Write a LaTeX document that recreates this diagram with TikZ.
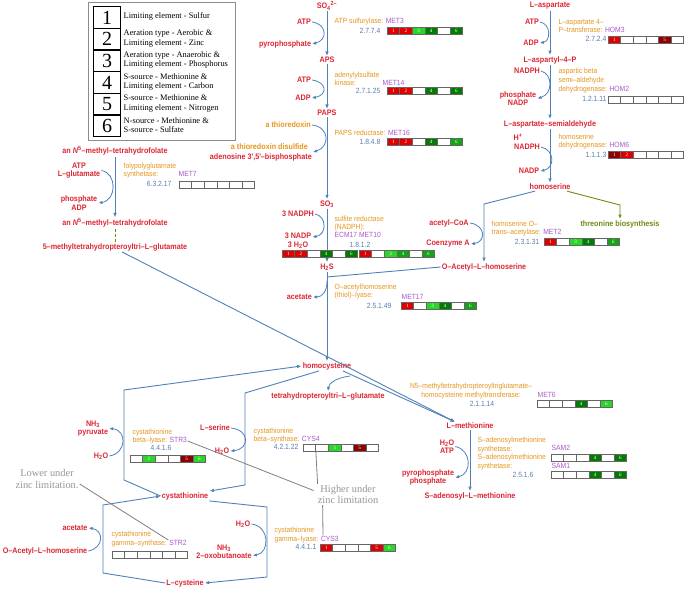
\documentclass[tikz,border=0pt]{standalone}
\usepackage{fontspec}
\setmainfont{Liberation Serif}
\newfontfamily\lab{Liberation Sans}[FakeStretch=0.9]
\usetikzlibrary{arrows.meta}
\definecolor{metc}{RGB}{220,38,52}
\definecolor{enzc}{RGB}{230,150,30}
\definecolor{genec}{RGB}{170,90,200}
\definecolor{ecc}{RGB}{90,125,175}
\definecolor{arrc}{RGB}{80,130,185}
\definecolor{thrc}{RGB}{110,140,20}
\definecolor{notec}{RGB}{150,150,150}
\definecolor{cR}{RGB}{225,0,0}
\definecolor{cD}{RGB}{145,0,0}
\definecolor{cG}{RGB}{40,215,40}
\definecolor{cM}{RGB}{20,165,20}
\definecolor{cK}{RGB}{0,125,0}
\newcommand{\cellrow}[4]{\foreach \cc/\nn [count=\ii] in {#4}{\node[cellbox, fill=\cc] (#1-\ii) at ({#2+12.6*\ii-6.3},{#3+3.75}) {\nn};}}
\begin{document}
\begin{tikzpicture}[x=1pt,y=-1pt,
 met/.style={font=\lab\bfseries\fontsize{8}{8.4}\selectfont, text=metc, inner sep=1pt, align=center},
 enz/.style={font=\lab\fontsize{7.5}{8.6}\selectfont, text=enzc, inner sep=0.5pt, anchor=west, align=left},
 genel/.style={font=\lab\fontsize{7.5}{8.6}\selectfont, text=genec, inner sep=0.5pt, anchor=west},
 ecl/.style={font=\lab\fontsize{7.5}{8.6}\selectfont, text=ecc, inner sep=0.5pt},
 cellbox/.style={draw=black!60, line width=0.5pt, minimum width=12.6pt, minimum height=7.5pt, inner sep=0pt, text=white, font=\fontsize{5}{5}\selectfont},
 mainarr/.style={draw=arrc, line width=0.9pt, -{Latex[length=4.5pt,width=3.6pt]}},
 mainln/.style={draw=arrc, line width=0.9pt},
 sidearr/.style={draw=arrc, line width=0.8pt, -{Latex[length=4pt,width=3.4pt]}},
 thrarr/.style={draw=thrc, line width=0.9pt, -{Latex[length=4.5pt,width=3.6pt]}},
 notel/.style={draw=black!50, line width=0.8pt},
 notet/.style={font=\fontsize{10.4}{11.5}\selectfont, text=notec, align=center, inner sep=1pt},
 legt/.style={font=\fontsize{8.4}{9.4}\selectfont, align=left, anchor=west, inner sep=0.5pt},
 legn/.style={draw, line width=1.3pt, minimum width=27pt, minimum height=21.67pt, inner sep=0pt, font=\fontsize{20}{20}\selectfont, anchor=north west}
]
\useasboundingbox (0,0) rectangle (685,592);
\fill[white] (0,0) rectangle (685,592);

% ---------------- legend
\node[draw=black!45, line width=0.7pt, anchor=north west, minimum width=147pt, minimum height=138pt, inner sep=0pt] (legbox) at (88,2) {};
\foreach \i in {1,...,6}{\node[legn] (L\i) at (93,{6+21.67*(\i-1)}) {\i};}
\node[legt] (lt1) at (123,16.8) {Limiting element - Sulfur};
\node[legt] (lt2) at (123,38.5) {Aeration type - Aerobic \&\\Limiting element - Zinc};
\node[legt] (lt3) at (123,60.2) {Aeration type - Anaerobic \&\\Limiting element - Phosphorus};
\node[legt] (lt4) at (123,81.8) {S-source - Methionine \&\\Limiting element - Carbon};
\node[legt] (lt5) at (123,103.5) {S-source - Methionine \&\\Limiting element - Nitrogen};
\node[legt] (lt6) at (123,125.2) {N-source - Methionine \&\\S-source - Sulfate};

% ---------------- sulfate column
\node[met] (so4) at (327,6) {SO\textsubscript{4}\textsuperscript{2–}};
\node[met] (atp1) at (304,22) {ATP};
\node[met] (ppi1) at (285,44) {pyrophosphate};
\node[met] (aps) at (327,60) {APS};
\node[met] (atp2) at (304,80) {ATP};
\node[met] (adp1) at (303,98) {ADP};
\node[met] (paps) at (327,113) {PAPS};
\node[met, text=enzc, anchor=east] (trx) at (312,125) {a thioredoxin};
\node[met, text=enzc, anchor=east] (trxss) at (309,147) {a thioredoxin disulfide};
\node[met, anchor=east] (pap) at (313,157) {adenosine 3',5'–bisphosphate};
\node[met] (so3) at (327,204) {SO\textsubscript{3}};
\node[met] (nadph3) at (298,214) {3 NADPH};
\node[met] (nadp3) at (298,241) {3 NADP\\3 H\textsubscript{2}O};
\node[met] (h2s) at (327,267) {H\textsubscript{2}S};
\node[met, anchor=east] (acet1) at (313,297) {acetate};
\node[met] (homocys) at (327,366) {homocysteine};
\node[met] (tetra) at (328,396) {tetrahydropteroyltri–L–glutamate};

% ---------------- aspartate column
\node[met] (lasp) at (550,6) {L–aspartate};
\node[met] (atp3) at (532,22) {ATP};
\node[met] (adp3) at (531,43) {ADP};
\node[met] (lasp4p) at (550,60) {L–aspartyl–4–P};
\node[met] (nadph1) at (527,71) {NADPH};
\node[met] (phos1) at (518,98.5) {phosphate\\NADP};
\node[met] (lasa) at (550,124) {L–aspartate–semialdehyde};
\node[met] (hplus) at (518,137) {H\textsuperscript{+}};
\node[met] (nadph2) at (527,147) {NADPH};
\node[met] (nadp2) at (529,171) {NADP};
\node[met] (homoser) at (550,187) {homoserine};
\node[met, text=thrc] (thr) at (620,224) {threonine biosynthesis};
\node[met] (acoa) at (449,223) {acetyl–CoA};
\node[met] (coa) at (448,244) {Coenzyme A};
\node[met] (oahs) at (484,267) {O–Acetyl–L–homoserine};

% ---------------- folate column
\node[met] (n5a) at (115,151) {an \textit{N}\textsuperscript{5}–methyl–tetrahydrofolate};
\node[met] (atp4) at (79,170.5) {ATP\\L–glutamate};
\node[met] (phos2) at (79,203) {phosphate\\ADP};
\node[met] (n5b) at (115,223) {an \textit{N}\textsuperscript{5}–methyl–tetrahydrofolate};
\node[met] (mthf) at (115,247) {5–methyltetrahydropteroyltri–L–glutamate};

% ---------------- methionine
\node[met] (lmet) at (470,426) {L–methionine};
\node[met] (atp5) at (447,446.5) {H\textsubscript{2}O\\ATP};
\node[met] (ppi2) at (428,477.5) {pyrophosphate\\phosphate};
\node[met] (sam) at (470,496) {S–adenosyl–L–methionine};

% ---------------- transsulfuration
\node[met] (pyr) at (93,428.5) {NH\textsubscript{3}\\pyruvate};
\node[met] (h2o5) at (101,456) {H\textsubscript{2}O};
\node[met] (lser) at (215,428) {L–serine};
\node[met] (h2o6) at (222,451) {H\textsubscript{2}O};
\node[met] (cysta) at (185,496) {cystathionine};
\node[met] (acet2) at (75,528) {acetate};
\node[met] (oahs2) at (45,551) {O–Acetyl–L–homoserine};
\node[met] (h2o7) at (243,524) {H\textsubscript{2}O};
\node[met] (oxob) at (224,551.5) {NH\textsubscript{3}\\2–oxobutanoate};
\node[met] (lcys) at (185,583) {L–cysteine};

% ---------------- junction coordinates
\coordinate (j1) at (327,277);
\coordinate (j3) at (327,281);
\coordinate (j2) at (350,376);

% ---------------- main arrows
\draw[mainarr] (so4) -- (aps);
\draw[mainarr] (aps) -- (paps);
\draw[mainarr] (paps) -- (so3);
\draw[mainarr] (so3) -- (h2s);
\draw[mainarr] (h2s) -- (homocys);
\draw[mainln] (oahs.west) -- (j1);
\draw[mainarr] (lasp) -- (lasp4p);
\draw[mainarr] (lasp4p) -- (lasa);
\draw[mainarr] (lasa) -- (homoser);
\draw[mainarr] ([xshift=-15pt]homoser.south) -- (484,204) -- (oahs.north);
\draw[thrarr] ([xshift=17pt]homoser.south) -- (620,205) -- (thr.north);
\draw[mainarr] (n5a) -- (n5b);
\draw[draw=thrc, line width=0.9pt, dash pattern=on 3pt off 2pt] (n5b) -- (mthf);
\draw[mainarr] ([xshift=7pt]mthf.south) -- ([xshift=-15pt]lmet.north);
\draw[mainarr] ([xshift=16pt]homocys.south) -- ([xshift=-15pt]lmet.north);
\draw[mainarr] (lmet) -- (sam);
\draw[mainarr] (cysta.west) -- (124,480) -- (124,390) -- (homocys.west);
\draw[mainarr] ([xshift=-8pt]homocys.south) -- (245,393) -- (245,485) -- (cysta.north east);
\draw[mainarr] (lcys.west) -- (103,573) -- (103,505) -- (cysta.west);
\draw[mainarr] (cysta.south east) -- (267,507) -- (267,577) -- (lcys.east);

% ---------------- side arrows
\draw[sidearr] (atp1.east) .. controls (327,24) and (328,40) .. (ppi1.east);
\draw[sidearr] (atp2.east) .. controls (327,82) and (328,95) .. (adp1.east);
\draw[sidearr] (trx.east) .. controls (330,127) and (330,147) .. (pap.north east);
\draw[sidearr] (nadph3.east) .. controls (327,216) and (327,235) .. ([yshift=4pt]nadp3.east);
\draw[sidearr] (j3) .. controls (327,292) and (322,297) .. (acet1.east);
\draw[sidearr] (atp3.east) .. controls (551,24) and (551,41) .. (adp3.east);
\draw[sidearr] (nadph1.east) .. controls (553,74) and (553,94) .. (phos1.east);
\draw[sidearr] (nadph2.east) .. controls (555,150) and (555,168) .. (nadp2.east);
\draw[sidearr] (acoa.east) .. controls (486,225) and (486,242) .. (coa.east);
\draw[sidearr] (atp4.east) .. controls (117,173) and (117,200) .. (phos2.east);
\draw[sidearr] (j2) .. controls (336,378) and (329,383) .. (tetra.north);
\draw[sidearr] (atp5.east) .. controls (472,450) and (472,474) .. (ppi2.east);
\draw[sidearr] (h2o5.east) .. controls (127,453) and (127,430) .. (pyr.east);
\draw[sidearr] (lser.east) .. controls (250,430) and (250,449) .. (h2o6.east);
\draw[sidearr] (oahs2.east) .. controls (104,548) and (104,530) .. (acet2.east);
\draw[sidearr] (h2o7.east) .. controls (270,526) and (270,553) .. ([yshift=-4pt]oxob.east);

% ---------------- enzymes
\node[enz] (e_met3) at (334,22) {ATP sulfurylase: {\color{genec}MET3}};
\node[ecl, anchor=east] (ec_met3) at (381,31) {2.7.7.4};
\cellrow{b_met3}{387}{27}{cR/1,cR/2,cG/3,cK/4,white/{},cK/6}

\node[enz] (e_met14) at (334,79) {adenylylsulfate\\kinase:};
\node[genel] (g_met14) at (382,83) {MET14};
\node[ecl, anchor=east] (ec_met14) at (381,91) {2.7.1.25};
\cellrow{b_met14}{387}{87}{cR/1,cR/2,white/{},cK/4,white/{},cK/6}

\node[enz] (e_met16) at (334,133) {PAPS reductase: {\color{genec}MET16}};
\node[ecl, anchor=east] (ec_met16) at (381,142) {1.8.4.8};
\cellrow{b_met16}{387}{138}{cR/1,cR/2,white/{},cK/4,white/{},cM/6}

\node[enz, font=\lab\fontsize{7.5}{8.2}\selectfont] (e_sir) at (334,227) {sulfite reductase\\(NADPH):\\{\color{genec}ECM17 MET10}};
\node[ecl] (ec_sir) at (360,244.5) {1.8.1.2};
\cellrow{b_ecm17}{282}{250}{cR/1,cR/2,white/{},cK/4,white/{},cK/6}
\cellrow{b_met10}{359}{250}{cR/1,white/{},cG/3,cM/4,white/{},cM/6}

\node[enz] (e_met17) at (334,291.5) {O–acetylhomoserine\\(thiol)–lyase:};
\node[genel] (g_met17) at (401,297) {MET17};
\node[ecl, anchor=east] (ec_met17) at (392,306) {2.5.1.49};
\cellrow{b_met17}{401}{302}{cR/1,white/{},cG/3,cK/4,white/{},cM/6}

\node[enz] (e_hom3) at (558,26) {L–aspartate 4–\\P–transferase: {\color{genec}HOM3}};
\node[ecl, anchor=east] (ec_hom3) at (607,39) {2.7.2.4};
\cellrow{b_hom3}{608}{36}{cR/1,white/{},white/{},white/{},cD/5,white/{}}

\node[enz] (e_hom2) at (558,80.5) {aspartic beta\\semi–aldehyde\\dehydrogenase: {\color{genec}HOM2}};
\node[ecl, anchor=east] (ec_hom2) at (607,99) {1.2.1.11};
\cellrow{b_hom2}{608}{96}{white/{},white/{},white/{},white/{},white/{},white/{}}

\node[enz] (e_hom6) at (558,141.5) {homoserine\\dehydrogenase: {\color{genec}HOM6}};
\node[ecl, anchor=east] (ec_hom6) at (607,155) {1.1.1.3};
\cellrow{b_hom6}{608}{151}{cD/1,cR/2,white/{},white/{},white/{},white/{}}

\node[enz] (e_met2) at (491,228.5) {homoserine O–\\trans–acetylase: {\color{genec}MET2}};
\node[ecl, anchor=east] (ec_met2) at (540,242) {2.3.1.31};
\cellrow{b_met2}{544}{238}{cR/1,white/{},cG/3,cK/4,white/{},cM/6}

\node[enz] (e_met7) at (123,170.5) {folypolyglutamate\\synthetase:};
\node[genel] (g_met7) at (178,174) {MET7};
\node[ecl, anchor=east] (ec_met7) at (172,184) {6.3.2.17};
\cellrow{b_met7}{179}{181}{white/{},white/{},white/{},white/{},white/{},white/{}}

\node[enz, anchor=center, align=center] (e_met6) at (471,391) {N5–methyltetrahydropteroyltriglutamate–\\homocysteine methyltransferase:};
\node[ecl] (ec_met6) at (482,404) {2.1.1.14};
\node[genel] (g_met6) at (537,395) {MET6};
\cellrow{b_met6}{537}{400}{white/{},white/{},white/{},cK/4,white/{},cG/6}

\node[enz, font=\lab\fontsize{7.5}{8.4}\selectfont] (e_sam) at (477,453.5) {S–adenosylmethionine\\synthetase:\\S–adenosylmethionine\\synthetase:};
\node[ecl] (ec_sam) at (523,475) {2.5.1.6};
\node[genel] (g_sam2) at (551,448) {SAM2};
\cellrow{b_sam2}{551}{454}{white/{},white/{},white/{},cK/4,white/{},cK/6}
\node[genel] (g_sam1) at (551,466) {SAM1};
\cellrow{b_sam1}{551}{471}{white/{},white/{},white/{},cK/4,white/{},cK/6}

\node[enz] (e_str3) at (132,436.5) {cystathionine\\beta–lyase: {\color{genec}STR3}};
\node[ecl] (ec_str3) at (161,448) {4.4.1.6};
\cellrow{b_str3}{130}{455}{white/{},cG/2,white/{},white/{},cD/5,cG/6}

\node[enz] (e_cys4) at (253,435.5) {cystathionine\\beta–synthase: {\color{genec}CYS4}};
\node[ecl, anchor=east] (ec_cys4) at (299,447) {4.2.1.22};
\cellrow{b_cys4}{303}{444}{white/{},white/{},cG/3,white/{},cD/5,white/{}}

\node[enz] (e_str2) at (111,539) {cystathionine\\gamma–synthase: {\color{genec}STR2}};
\cellrow{b_str2}{112}{551}{white/{},white/{},white/{},white/{},white/{},white/{}}

\node[enz] (e_cys3) at (274,535) {cystathionine\\gamma–lyase: {\color{genec}CYS3}};
\node[ecl, anchor=east] (ec_cys3) at (317,547) {4.4.1.1};
\cellrow{b_cys3}{320}{544}{cR/1,white/{},white/{},white/{},cR/5,cG/6}

% ---------------- zinc notes
\node[notet] (hi) at (348,494.5) {Higher under\\zinc limitation};
\node[notet] (lo) at (47,479) {Lower under\\zinc limitation.};
\draw[notel] ([yshift=-4.5pt]e_str3.east) -- ([xshift=-3pt,yshift=4pt]hi.west);
\draw[notel] (b_cys4-1.south east) -- ([xshift=1pt]hi.north west);
\draw[notel] ([xshift=6pt]hi.south west) -- ([xshift=49pt]e_cys3.west);
\draw[notel] ([yshift=-5pt]lo.east) -- ([xshift=-19pt,yshift=-1pt]e_str2.east);
\end{tikzpicture}
\end{document}
